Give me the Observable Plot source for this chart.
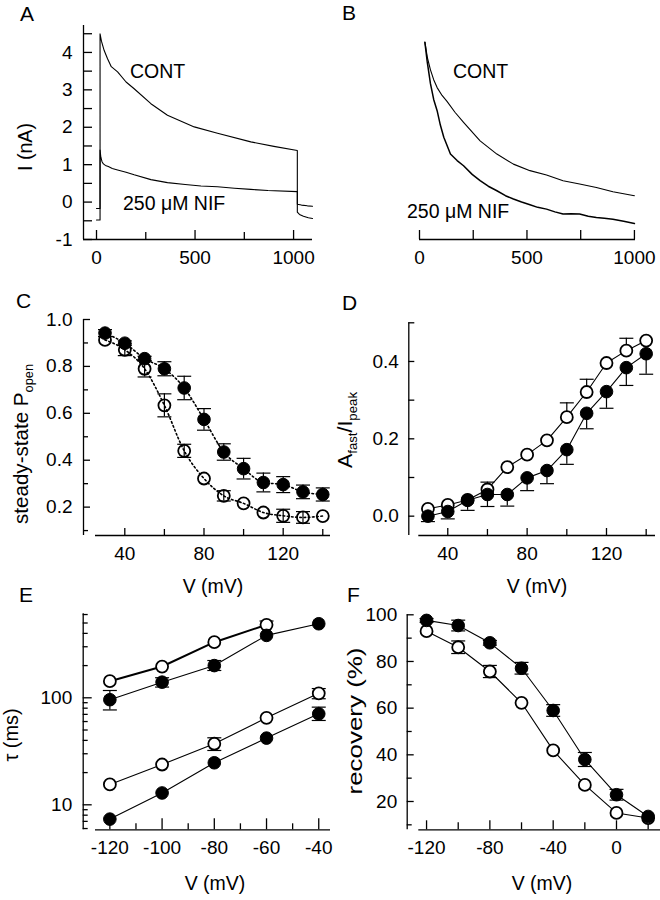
<!DOCTYPE html>
<html><head><meta charset="utf-8">
<script src="https://cdn.jsdelivr.net/npm/d3@7"></script>
<script src="https://cdn.jsdelivr.net/npm/@observablehq/plot@0.6"></script>
<style>
body{margin:0;background:#fff;}
#fig{position:relative;width:660px;height:900px;overflow:hidden;background:#fff;}
</style></head><body><div id="fig"></div>
<script>
const FONT = "'Liberation Sans', Arial, Helvetica, sans-serif";

// ---------- Panel A: current traces (t in ms, I in nA) ----------
const aContT = [0,18,18,25,39,56,75,107,150,191,276,360,496,614,783,900,1019,1019,1030,1050,1075,1096];
const aContI = [-0.48,-0.48,4.5,4.3,4.05,3.83,3.62,3.48,3.21,3.03,2.63,2.32,2.01,1.84,1.61,1.49,1.38,-0.27,-0.33,-0.38,-0.42,-0.44];
const aNifT = [0,18,18,22,28,35,45,60,80,107,150,191,276,360,450,530,614,700,783,870,1019,1019,1040,1070,1096];
const aNifI = [-0.17,-0.17,1.39,1.2,1.08,1.02,0.98,0.95,0.9,0.86,0.8,0.73,0.6,0.52,0.47,0.43,0.41,0.37,0.34,0.31,0.28,-0.06,-0.08,-0.1,-0.11];
const aXMajor = [0,500,1000], aXMinor = [250,750];
const aYMajor = [-1,0,1,2,3,4], aYMinor = [-0.5,0.5,1.5,2.5,3.5,4.5];

// ---------- Panel B: normalised traces ----------
const bContT = [25,37,51,66,82,105,128,165,205,282,360,437,514,591,668,745,823,900,1000];
const bContI = [1.0,0.92,0.86,0.81,0.77,0.73,0.70,0.645,0.594,0.5,0.433,0.382,0.349,0.327,0.298,0.281,0.264,0.242,0.222];
const bNifT = [25,36,51,66,82,97,113,144,175,205,245,282,320,360,400,437,475,514,550,591,630,668,705,745,785,823,860,900,950,1000];
const bNifI = [1.0,0.90,0.79,0.71,0.653,0.58,0.518,0.433,0.40,0.374,0.33,0.298,0.27,0.247,0.222,0.205,0.19,0.176,0.163,0.154,0.14,0.129,0.13,0.129,0.118,0.112,0.108,0.103,0.092,0.081];
const bXMajor = [0,500,1000], bXMinor = [250,750];

// ---------- Panel C: steady-state P_open ----------
const cV = [30,40,50,60,70,80,90,100,110,120,130,140];
const cFilled = [0.942,0.899,0.833,0.79,0.708,0.574,0.435,0.364,0.305,0.296,0.265,0.254];
const cFilledErr = [0.015,0.01,0.01,0.03,0.05,0.046,0.035,0.044,0.04,0.034,0.029,0.028];
const cOpen = [0.913,0.871,0.79,0.634,0.44,0.322,0.248,0.216,0.177,0.163,0.156,0.162];
const cOpenErr = [0,0.025,0.035,0.049,0.028,0,0.022,0,0,0.028,0.025,0];
const cXMajor = [40,80,120], cXMinor = [60,100,140];
const cYMajor = [0.2,0.4,0.6,0.8,1.0], cYMinor = [0.1,0.3,0.5,0.7,0.9];

// ---------- Panel D: A_fast / I_peak ----------
const dV = [30,40,50,60,70,80,90,100,110,120,130,140];
const dOpen = [0.019,0.029,0.042,0.069,0.127,0.159,0.196,0.256,0.321,0.396,0.428,0.454];
const dOpenErrUp = [0,0,0,0.019,0,0,0,0.037,0.033,0,0.032,0];
const dFilled = [0.0,0.012,0.041,0.056,0.056,0.099,0.118,0.172,0.266,0.322,0.384,0.42];
const dFilledErrDown = [0.014,0.019,0.026,0.031,0.030,0.033,0.034,0.038,0.04,0.043,0.046,0.053];
const dXMajor = [40,80,120], dXMinor = [60,100,140];
const dYMajor = [0,0.2,0.4], dYMinor = [0.1,0.3,0.5];

// ---------- Panel E: tau (ms), log scale ----------
const eV = [-120,-100,-80,-60,-40];
const eOpenSlow = [143,196,331,481,null];
const eFilledSlow = [96,140,200,383,492];
const eOpenFast = [15.5,23.8,37.2,65,110];
const eFilledFast = [7.35,12.9,24.7,42,70.8];
const eFilledSlowLo = [77,126,180,null,null], eFilledSlowHi = [117,154,223,null,null];
const eOpenSlowLo = [null,null,null,null,null], eOpenSlowHi = [null,null,null,522,null];
const eOpenFastLo = [null,null,32.2,null,98], eOpenFastHi = [null,null,42.3,null,122];
const eFilledFastLo = [null,null,null,null,61.4], eFilledFastHi = [null,null,null,null,81.8];
const eXMajor = [-120,-100,-80,-60,-40], eXMinor = [-110,-90,-70,-50];
const eYMajor = [10,100], eYMinor = [6,7,8,9,20,30,40,50,60,70,80,90,200,300,400,500,600];

// ---------- Panel F: recovery (%) ----------
const fV = [-120,-100,-80,-60,-40,-20,0,20];
const fFilled = [97.6,95.4,88,77.1,59,38,22.9,13.6];
const fFilledErr = [0.8,2.3,1,2.5,2.5,3,2.3,0];
const fOpen = [93,86.1,75.7,62.3,41.9,27.1,15.1,12.9];
const fOpenErr = [0,2.7,2.6,0,0,0,0,0];
const fXMajor = [-120,-80,-40,0], fXMinor = [-100,-60,-20,20];
const fYMajor = [20,40,60,80,100], fYMinor = [10,30,50,70,90];

// ---------- helpers ----------
const fig = document.getElementById("fig");
const zip = (xs, ys) => xs.map((x, i) => ({x, y: ys[i]})).filter(d => d.y != null);
const bars = (xs, ys, lo, hi) => xs.map((x, i) => ({x, y: ys[i], lo: lo[i], hi: hi[i]})).filter(d => d.lo != null && d.hi != null && d.hi > d.lo);
const capSym = {draw(ctx, size) { const w = Math.sqrt(size / Math.PI); ctx.moveTo(-w, 0); ctx.lineTo(w, 0); }};
const AXW = 1.3;

function xAxes(major, minor, fmt, majLen, minLen) {
  return [
    Plot.axisX(major, {anchor: "bottom", tickSize: -majLen, tickPadding: 11 + majLen, tickFormat: fmt, strokeWidth: AXW, label: null}),
    Plot.axisX(minor, {anchor: "bottom", tickSize: -minLen, tickPadding: 11 + minLen, tickFormat: () => "", strokeWidth: AXW, label: null})
  ];
}
function errMarks(rows, capLo, capHi) {
  const m = [Plot.ruleX(rows, {x: "x", y1: "lo", y2: "hi", stroke: "black", strokeWidth: 1.2})];
  if (capLo) m.push(Plot.dot(rows, {x: "x", y: "lo", symbol: capSym, r: 7, fill: "none", stroke: "black", strokeWidth: 1.2}));
  if (capHi) m.push(Plot.dot(rows, {x: "x", y: "hi", symbol: capSym, r: 7, fill: "none", stroke: "black", strokeWidth: 1.2}));
  return m;
}
function place(svg, left, top) {
  svg.style.position = "absolute";
  svg.style.left = left + "px";
  svg.style.top = top + "px";
  fig.appendChild(svg);
}
const baseStyle = {background: "transparent", fontFamily: FONT, fontSize: "19px", color: "black", overflow: "visible", maxWidth: "none"};
const fmtInt = d => String(d);          // plain hyphen-minus as in the original
const fmt1 = d => d.toFixed(1);

// ---------- Panel A ----------
const aX = [-66, 1096], aY = [-1, 4.72];
place(Plot.plot({
  width: 330, height: 280, marginLeft: 83, marginRight: 18, marginTop: 25, marginBottom: 41,
  style: baseStyle,
  x: {domain: aX, label: null}, y: {domain: aY, label: null},
  marks: [
    Plot.ruleX([aX[0]], {strokeWidth: AXW}),
    Plot.ruleY([aY[0]], {strokeWidth: AXW}),
    Plot.axisY(aYMajor, {anchor: "left", tickSize: -9, tickPadding: 20, tickFormat: fmtInt, strokeWidth: AXW, label: null}),
    Plot.axisY(aYMinor, {anchor: "left", tickSize: -9, tickPadding: 20, tickFormat: () => "", strokeWidth: AXW, label: null}),
    ...xAxes(aXMajor, aXMinor, fmtInt, 9, 7),
    Plot.line(zip(aContT, aContI), {x: "x", y: "y", stroke: "black", strokeWidth: 1.1}),
    Plot.line(zip(aNifT, aNifI), {x: "x", y: "y", stroke: "black", strokeWidth: 1.1})
  ]
}), 0, 0);

// ---------- Panel B ----------
const bX = [0, 1005], bY = [0, 1.034];
place(Plot.plot({
  width: 330, height: 280, marginLeft: 89, marginRight: 25, marginTop: 35, marginBottom: 41,
  style: baseStyle,
  x: {domain: bX, label: null}, y: {domain: bY, label: null, axis: null},
  marks: [
    Plot.ruleY([bY[0]], {strokeWidth: AXW}),
    ...xAxes(bXMajor, bXMinor, fmtInt, 9, 9),
    Plot.line(zip(bContT, bContI), {x: "x", y: "y", stroke: "black", strokeWidth: 1.1}),
    Plot.line(zip(bNifT, bNifI), {x: "x", y: "y", stroke: "black", strokeWidth: 1.5})
  ]
}), 330, 0);

// ---------- Panel C ----------
const cX = [25.2, 143.9], cY = [0.079, 1.0];
place(Plot.plot({
  width: 330, height: 290, marginLeft: 95, marginRight: 0, marginTop: 29, marginBottom: 45,
  style: baseStyle,
  x: {domain: cX, label: null}, y: {domain: cY, label: null},
  marks: [
    Plot.ruleX([cX[0]], {dx: -12, strokeWidth: AXW}),
    Plot.ruleY([cY[0]], {strokeWidth: AXW}),
    Plot.axisY(cYMajor, {anchor: "left", dx: -12, tickSize: -7, tickPadding: 18, tickFormat: fmt1, strokeWidth: AXW, label: null}),
    Plot.axisY(cYMinor, {anchor: "left", dx: -12, tickSize: -5, tickPadding: 16, tickFormat: () => "", strokeWidth: AXW, label: null}),
    ...xAxes(cXMajor, cXMinor, fmtInt, 7, 6),
    Plot.line(zip(cV, cFilled), {x: "x", y: "y", curve: "monotone-x", stroke: "black", strokeWidth: 1.6, strokeDasharray: "1.6,2.6"}),
    Plot.line(zip(cV, cOpen), {x: "x", y: "y", curve: "monotone-x", stroke: "black", strokeWidth: 1.6, strokeDasharray: "1.6,2.6"}),
    ...errMarks(bars(cV, cFilled, cFilled.map((v, i) => v - cFilledErr[i]), cFilled.map((v, i) => v + cFilledErr[i])), true, true),
    ...errMarks(bars(cV, cOpen, cOpen.map((v, i) => v - cOpenErr[i]), cOpen.map((v, i) => v + cOpenErr[i])), true, true),
    Plot.dot(zip(cV, cOpen), {x: "x", y: "y", r: 6, fill: "none", stroke: "black", strokeWidth: 1.8}),
    Plot.dot(zip(cV, cFilled), {x: "x", y: "y", r: 6.3, fill: "black", stroke: "black", strokeWidth: 1})
  ]
}), 0, 290);

// ---------- Panel D ----------
const dX = [25.4, 144.7], dY = [-0.05, 0.5];
place(Plot.plot({
  width: 330, height: 290, marginLeft: 88.3, marginRight: 5, marginTop: 32.3, marginBottom: 45,
  style: baseStyle,
  x: {domain: dX, label: null}, y: {domain: dY, label: null},
  marks: [
    Plot.ruleX([dX[0]], {dx: -10, strokeWidth: AXW}),
    Plot.ruleY([dY[0]], {strokeWidth: AXW}),
    Plot.axisY(dYMajor, {anchor: "left", dx: -10, tickSize: -6, tickPadding: 16, tickFormat: fmt1, strokeWidth: AXW, label: null}),
    Plot.axisY(dYMinor, {anchor: "left", dx: -10, tickSize: -6, tickPadding: 16, tickFormat: () => "", strokeWidth: AXW, label: null}),
    ...xAxes(dXMajor, dXMinor, fmtInt, 7, 6),
    ...errMarks(bars(dV, dFilled, dFilled.map((v, i) => v - dFilledErrDown[i]), dFilled), true, false),
    ...errMarks(bars(dV, dOpen, dOpen, dOpen.map((v, i) => v + dOpenErrUp[i])), false, true),
    Plot.line(zip(dV, dFilled), {x: "x", y: "y", stroke: "black", strokeWidth: 1.1}),
    Plot.line(zip(dV, dOpen), {x: "x", y: "y", stroke: "black", strokeWidth: 1.1}),
    Plot.dot(zip(dV, dOpen), {x: "x", y: "y", r: 6, fill: "white", stroke: "black", strokeWidth: 1.8}),
    Plot.dot(zip(dV, dFilled), {x: "x", y: "y", r: 6.3, fill: "black", stroke: "black", strokeWidth: 1})
  ]
}), 330, 290);

// ---------- Panel E ----------
const eX = [-125.5, -35.5], eY = [5.84, 609.6];
place(Plot.plot({
  width: 330, height: 310, marginLeft: 95, marginRight: 0, marginTop: 23.3, marginBottom: 70.7,
  style: baseStyle,
  x: {domain: eX, label: null}, y: {type: "log", domain: eY, label: null},
  marks: [
    Plot.ruleX([eX[0]], {dx: -12.3, strokeWidth: AXW}),
    Plot.ruleY([eY[0]], {strokeWidth: AXW}),
    Plot.axisY(eYMajor, {anchor: "left", dx: -12.3, tickSize: -9, tickPadding: 20, tickFormat: fmtInt, strokeWidth: AXW, label: null}),
    Plot.axisY(eYMinor, {anchor: "left", dx: -12.3, tickSize: -5, tickPadding: 16, tickFormat: () => "", strokeWidth: AXW, label: null}),
    ...xAxes(eXMajor, eXMinor, fmtInt, 11, 6),
    ...errMarks(bars(eV, eFilledSlow, eFilledSlowLo, eFilledSlowHi), true, true),
    ...errMarks(bars(eV, eOpenSlow, eOpenSlow, eOpenSlowHi), false, true),
    ...errMarks(bars(eV, eOpenFast, eOpenFastLo, eOpenFastHi), true, true),
    ...errMarks(bars(eV, eFilledFast, eFilledFastLo, eFilledFastHi), true, true),
    Plot.line(zip(eV, eFilledSlow), {x: "x", y: "y", stroke: "black", strokeWidth: 1.1}),
    Plot.line(zip(eV, eOpenSlow), {x: "x", y: "y", stroke: "black", strokeWidth: 2}),
    Plot.line(zip(eV, eOpenFast), {x: "x", y: "y", stroke: "black", strokeWidth: 1.1}),
    Plot.line(zip(eV, eFilledFast), {x: "x", y: "y", stroke: "black", strokeWidth: 1.1}),
    Plot.dot(zip(eV, eOpenSlow), {x: "x", y: "y", r: 6, fill: "white", stroke: "black", strokeWidth: 1.8}),
    Plot.dot(zip(eV, eOpenFast), {x: "x", y: "y", r: 6, fill: "white", stroke: "black", strokeWidth: 1.8}),
    Plot.dot(zip(eV, eFilledSlow), {x: "x", y: "y", r: 6.3, fill: "black", stroke: "black", strokeWidth: 1}),
    Plot.dot(zip(eV, eFilledFast), {x: "x", y: "y", r: 6.3, fill: "black", stroke: "black", strokeWidth: 1})
  ]
}), 0, 590);

// ---------- Panel F ----------
const fX = [-124.9, 27.8], fY = [7.87, 100];
place(Plot.plot({
  width: 330, height: 310, marginLeft: 88.3, marginRight: 0, marginTop: 24.3, marginBottom: 70.7,
  style: baseStyle,
  x: {domain: fX, label: null}, y: {domain: fY, label: null},
  marks: [
    Plot.ruleX([fX[0]], {dx: -11.6, strokeWidth: AXW}),
    Plot.ruleY([fY[0]], {strokeWidth: AXW}),
    Plot.axisY(fYMajor, {anchor: "left", dx: -11.6, tickSize: -7, tickPadding: 17, tickFormat: fmtInt, strokeWidth: AXW, label: null}),
    Plot.axisY(fYMinor, {anchor: "left", dx: -11.6, tickSize: -5, tickPadding: 15, tickFormat: () => "", strokeWidth: AXW, label: null}),
    ...xAxes(fXMajor, fXMinor, fmtInt, 9, 7),
    ...errMarks(bars(fV, fFilled, fFilled.map((v, i) => v - fFilledErr[i]), fFilled.map((v, i) => v + fFilledErr[i])), true, true),
    ...errMarks(bars(fV, fOpen, fOpen.map((v, i) => v - fOpenErr[i]), fOpen.map((v, i) => v + fOpenErr[i])), true, true),
    Plot.line(zip(fV, fFilled), {x: "x", y: "y", stroke: "black", strokeWidth: 1.1}),
    Plot.line(zip(fV, fOpen), {x: "x", y: "y", stroke: "black", strokeWidth: 1.1}),
    Plot.dot(zip(fV, fOpen), {x: "x", y: "y", r: 6, fill: "white", stroke: "black", strokeWidth: 1.8}),
    Plot.dot(zip(fV, fFilled), {x: "x", y: "y", r: 6.3, fill: "black", stroke: "black", strokeWidth: 1})
  ]
}), 330, 590);

// ---------- text overlay: panel letters, axis titles, trace labels ----------
const ov = d3.select(fig).append("svg")
  .attr("width", 660).attr("height", 900)
  .style("position", "absolute").style("left", "0px").style("top", "0px").style("overflow", "visible")
  .attr("font-family", FONT).attr("fill", "black");

const letters = [["A", 20, 21], ["B", 342, 20], ["C", 16, 308], ["D", 342, 310], ["E", 19, 602], ["F", 347, 602]];
letters.forEach(([s, x, y]) => ov.append("text").attr("x", x).attr("y", y).attr("font-size", 21).text(s));

function htext(s, x, y, anchor, size, len) {
  const t = ov.append("text").attr("x", x).attr("y", y).attr("text-anchor", anchor).attr("font-size", size).text(s);
  if (len) t.attr("textLength", len).attr("lengthAdjust", "spacingAndGlyphs");
}
function rtext(parts, x, y, size, len) {
  const t = ov.append("text").attr("transform", `translate(${x},${y}) rotate(-90)`)
    .attr("text-anchor", "middle").attr("font-size", size);
  if (len) t.attr("textLength", len).attr("lengthAdjust", "spacingAndGlyphs");
  let shifted = false;
  parts.forEach(([s, sub]) => {
    const sp = t.append("tspan").text(s);
    if (sub && !shifted) { sp.attr("font-size", size * 0.62).attr("dy", 5); shifted = true; }
    else if (!sub && shifted) { sp.attr("dy", -5); shifted = false; }
    else if (sub) sp.attr("font-size", size * 0.62);
  });
}

rtext([["I (nA)"]], 32, 147, 20, 48);
rtext([["steady-state P"], ["open", true]], 28, 444, 20, 160);
rtext([["A"], ["fast", true], ["/I"], ["peak", true]], 352, 430, 21, 76);
rtext([["τ (ms)"]], 18, 735, 20, 53);
rtext([["recovery (%)"]], 362, 721, 20, 147);

htext("V (mV)", 213, 593, "middle", 19.5);
htext("V (mV)", 537, 593, "middle", 19.5);
htext("V (mV)", 215, 890, "middle", 19.5);
htext("V (mV)", 542, 890, "middle", 19.5);

htext("CONT", 130, 78, "start", 19.5);
htext("250 μM NIF", 123, 210, "start", 19.5);
htext("CONT", 453, 78, "start", 19.5);
htext("250 μM NIF", 407, 218, "start", 19.5);
</script></body></html>
